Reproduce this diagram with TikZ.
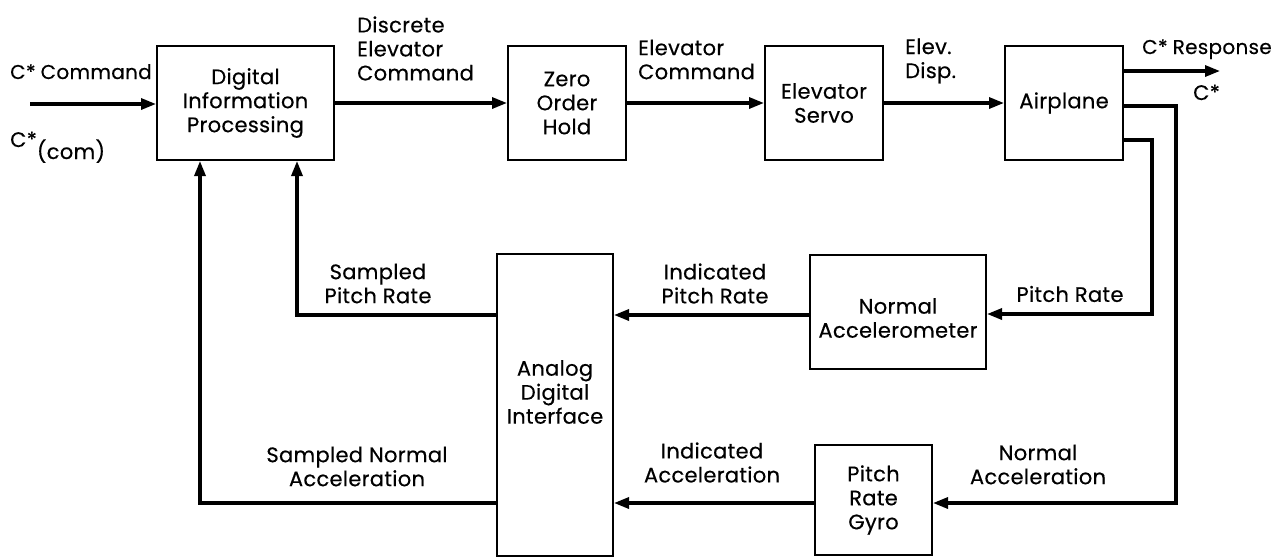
\documentclass[tikz,border=0pt]{standalone}
\usepackage{fontspec}
\setmainfont{Poppins}[LetterSpace=1.5,FakeBold=0.4]
\usetikzlibrary{arrows.meta}
\begin{document}
\begin{tikzpicture}[x=1pt,y=-1pt,
  every node/.style={font=\fontsize{21}{24}\selectfont},
  blk/.style={draw, line width=2pt, inner sep=0pt, align=center},
  conn/.style={line width=3.2pt, -{Triangle[length=15pt,width=11pt]}},
  lbl/.style={inner sep=0pt, align=center},
  lbll/.style={inner sep=0pt, align=left},
  small/.style={font=\fontsize{20}{24}\selectfont}
]
\useasboundingbox (0,0) rectangle (1285,558);
% blocks
\node[blk, minimum width=177pt, minimum height=114pt] (dip) at (245.5,103) {Digital\\Information\\Processing};
\node[blk, minimum width=118pt, minimum height=114pt] (zoh) at (567,103) {Zero\\Order\\Hold};
\node[blk, minimum width=118pt, minimum height=114pt] (es) at (824,103) {Elevator\\Servo};
\node[blk, minimum width=118pt, minimum height=114pt] (ap) at (1064,103) {Airplane};
\node[blk, minimum width=176pt, minimum height=114pt] (na) at (898,312) {};
\node[lbl] (natxt) at (898,318) {Normal\\Accelerometer};
\node[blk, minimum width=116pt, minimum height=302pt] (adi) at (555,405) {};
\node[lbl] (aditxt) at (555,392) {Analog\\Digital\\Interface};
\node[blk, minimum width=117pt, minimum height=110pt] (gyro) at (873.5,500) {Pitch\\Rate\\Gyro};
% coordinates
\coordinate (in) at (30,104);
\coordinate (resp) at (1220,71);
\coordinate (o1) at (1176,106);
\coordinate (o1b) at (1176,503);
\coordinate (o2) at (1152,140);
\coordinate (o2b) at (1152,314);
\coordinate (f1) at (297,315);
\coordinate (f2) at (200,503);
% connectors
\draw[conn] (in) -- (in -| dip.west);
\draw[conn] (dip) -- (zoh);
\draw[conn] (zoh) -- (es);
\draw[conn] (es) -- (ap);
\draw[conn] (ap.east |- resp) -- (resp);
\draw[conn] (ap.east |- o1) -- (o1) -- (o1b) -- (o1b -| gyro.east);
\draw[conn] (ap.east |- o2) -- (o2) -- (o2b) -- (o2b -| na.east);
\draw[conn] (na.west |- f1) -- (adi.east |- f1);
\draw[conn] (adi.west |- f1) -- (f1) -- (f1 |- dip.south);
\draw[conn] (gyro.west |- f2) -- (adi.east |- f2);
\draw[conn] (adi.west |- f2) -- (f2) -- (f2 |- dip.south);
% labels
\node[lbll, small, anchor=base west] (lcmd) at (10,79) {C*\hspace{5pt}Command};
\node[lbll, anchor=base west] (lcom) at (10,147) {C*\raisebox{-12pt}{(com)}};
\node[lbll, anchor=west] (ldec) at (357,48.5) {Discrete\\Elevator\\Command};
\node[lbll, anchor=west] (lec) at (638,59.5) {Elevator\\Command};
\node[lbll, anchor=west] (led) at (905,61) {Elev.\\Disp.};
\node[lbll, small, anchor=base west] (lresp) at (1142,54) {C*\hspace{5pt}Response};
\node[lbll, anchor=base west] (lc) at (1193,100) {C*};
\node[lbl] (lspr) at (378,283.5) {Sampled\\Pitch Rate};
\node[lbl] (lipr) at (715,283.5) {Indicated\\Pitch Rate};
\node[lbl] (lpr) at (1070,294) {Pitch Rate};
\node[lbl] (lsna) at (357,466.5) {Sampled Normal\\Acceleration};
\node[lbl] (lia) at (712,462.5) {Indicated\\Acceleration};
\node[lbl] (lna) at (1038,464.5) {Normal\\Acceleration};
\end{tikzpicture}
\end{document}
